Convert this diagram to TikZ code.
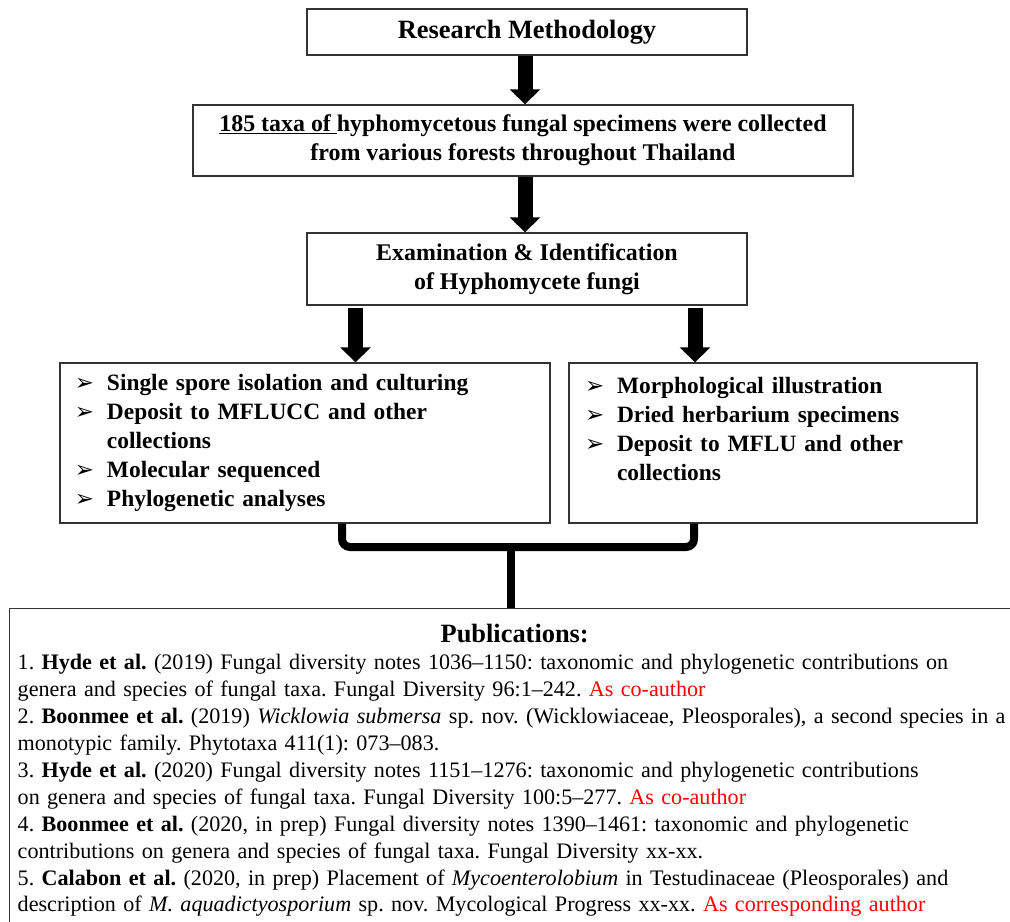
\documentclass[tikz,border=0pt]{standalone}
\usepackage{fontspec}
\setmainfont{Liberation Serif}
\newfontfamily\dingfont{DejaVu Sans}
\usetikzlibrary{arrows.meta, positioning}
\frenchspacing

\newcommand{\pointer}{\makebox[32bp][l]{\dingfont\fontsize{23}{23}\selectfont ➢}}
\newcommand{\nopointer}{\hspace{32bp}}

\tikzstyle{headbox} = [rectangle, draw=black!80, line width=1.4bp, align=center, inner sep=0pt, font=\bfseries\fontsize{26.5}{30}\selectfont]
\tikzstyle{stepbox} = [rectangle, draw=black!80, line width=1.4bp, align=center, inner sep=0pt, font=\bfseries\fontsize{24}{29}\selectfont]
\tikzstyle{listbox} = [rectangle, draw=black!80, line width=1.4bp, align=left, inner sep=0pt, font=\bfseries\fontsize{23.5}{29}\selectfont]
\tikzstyle{pubbox} = [rectangle, draw=black!80, line width=1.4bp, align=left, inner sep=8bp, font=\fontsize{22.2}{27}\selectfont]
\tikzstyle{bigarrow} = [line width=15bp, -{Triangle[width=30bp, length=15bp]}]
\tikzstyle{bracket} = [line width=8bp, rounded corners=8bp]

\begin{document}
\begin{tikzpicture}[x=1bp, y=-1bp]

\useasboundingbox (0,0) rectangle (1010,922);

% Nodes
\node (method) [headbox, minimum width=440bp, minimum height=46bp] at (527,32) {Research Methodology};
\node (collect) [stepbox, minimum width=660bp, minimum height=71bp] at (523,140.5) {\underline{185 taxa of\ }hyphomycetous fungal specimens were collected\\ from various forests throughout Thailand};
\node (exam) [stepbox, minimum width=440bp, minimum height=72bp] at (527,269) {Examination \& Identification\\ of Hyphomycete fungi};
\node (culture) [listbox, minimum width=490bp, minimum height=160bp, text width=460bp] at (305,443) {%
\pointer Single spore isolation and culturing\\
\pointer Deposit to MFLUCC and other\\
\nopointer collections\\
\pointer Molecular sequenced\\
\pointer Phylogenetic analyses};
\node (morph) [listbox, minimum width=408bp, minimum height=160bp, text width=376bp] at (773,443) {%
\pointer Morphological illustration\\
\pointer Dried herbarium specimens\\
\pointer Deposit to MFLU and other\\
\nopointer collections\\
~};
\node (pubs) [pubbox, anchor=north west, minimum height=324bp, text width=1050bp] at (9,608) {%
\makebox[994bp]{\bfseries\fontsize{26.5}{30}\selectfont Publications:}\\
1. \textbf{Hyde et al.} (2019) Fungal diversity notes 1036–1150: taxonomic and phylogenetic contributions on\\
genera and species of fungal taxa. Fungal Diversity 96:1–242. \textcolor{red}{As co-author}\\
2. \textbf{Boonmee et al.} (2019) \textit{Wicklowia submersa} sp. nov. (Wicklowiaceae, Pleosporales), a second species in a\\
monotypic family. Phytotaxa 411(1): 073–083.\\
3. \textbf{Hyde et al.} (2020) Fungal diversity notes 1151–1276: taxonomic and phylogenetic contributions\\
on genera and species of fungal taxa. Fungal Diversity 100:5–277. \textcolor{red}{As co-author}\\
4. \textbf{Boonmee et al.} (2020, in prep) Fungal diversity notes 1390–1461: taxonomic and phylogenetic\\
contributions on genera and species of fungal taxa. Fungal Diversity xx-xx.\\
5. \textbf{Calabon et al.} (2020, in prep) Placement of \textit{Mycoenterolobium} in Testudinaceae (Pleosporales) and\\
description of \textit{M. aquadictyosporium} sp. nov. Mycological Progress xx-xx. \textcolor{red}{As corresponding author}};

\coordinate (spine) at (525,0);
\coordinate (leftcol) at (355.5,0);
\coordinate (rightcol) at (695,0);
\coordinate (join) at (511,547);

% Arrows
\draw [bigarrow] (method.south -| spine) -- (collect.north -| spine);
\draw [bigarrow] (collect.south -| spine) -- (exam.north -| spine);
\draw [bigarrow] ([yshift=-2bp]exam.south -| leftcol) -- (culture.north -| leftcol);
\draw [bigarrow] ([yshift=-2bp]exam.south -| rightcol) -- (morph.north -| rightcol);
\draw [bracket] ([xshift=37bp]culture.south) |- (join) -| ([xshift=-79bp]morph.south);
\draw [line width=8bp] (join) -- (join |- pubs.north);

\end{tikzpicture}
\end{document}
